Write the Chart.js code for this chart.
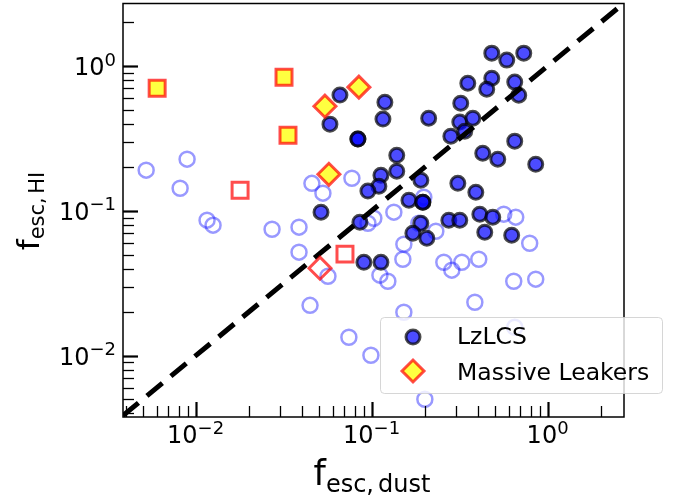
<!DOCTYPE html>
<html>
<head>
<meta charset="utf-8">
<script src="https://cdn.jsdelivr.net/npm/chart.js@4.4.1/dist/chart.umd.min.js"></script>
<style>
  html, body { margin: 0; padding: 0; background: #fff; }
  canvas { display: block; }
</style>
</head>
<body>
<canvas id="chart" width="687" height="498"></canvas>
<script>
// axis limits (log)
const X_MIN = 0.00387, X_MAX = 2.716;
const Y_MIN = 0.00378, Y_MAX = 2.70;

// LzLCS (filled circles)
const lzlcsX = [0.0661, 0.0580, 0.0836, 0.0836, 0.119, 0.116, 0.211, 0.139, 0.139, 0.113,
  0.110, 0.0953, 0.1905, 0.309, 0.391, 0.163, 0.1955, 0.1955, 0.2747, 0.317,
  0.412, 0.488, 0.4395, 0.625, 0.1905, 0.1716, 0.206, 0.113, 0.0904, 0.0516,
  0.0858, 0.4817, 0.586, 0.732, 0.352, 0.4817, 0.451, 0.6505, 0.6855, 0.321,
  0.317, 0.376, 0.282, 0.3384, 0.6505, 0.428, 0.521, 0.856];
const lzlcsY = [0.630, 0.397, 0.313, 0.313, 0.563, 0.430, 0.436, 0.242, 0.188, 0.176,
  0.148, 0.137, 0.163, 0.155, 0.1346, 0.1185, 0.1148, 0.1148, 0.0863, 0.0863,
  0.0949, 0.0905, 0.0713, 0.068, 0.0822, 0.0702, 0.0648, 0.0442, 0.0442, 0.098,
  0.0836, 1.227, 1.098, 1.227, 0.761, 0.824, 0.692, 0.774, 0.629, 0.554,
  0.41, 0.436, 0.328, 0.355, 0.303, 0.250, 0.2275, 0.210];

// open circles
const openX = [0.00524, 0.00895, 0.00817, 0.01162, 0.01257, 0.0272, 0.0387, 0.0387, 0.0458, 0.0529,
  0.0773, 0.0565, 0.0447, 0.0743, 0.0991, 0.0953, 0.1338, 0.103, 0.198, 0.1855,
  0.2317, 0.1525, 0.1505, 0.1115, 0.1237, 0.2572, 0.2856, 0.3255, 0.4064, 0.5633,
  0.659, 0.791, 0.642, 0.856, 0.386, 0.1525, 0.6505, 0.2007];
const openY = [0.191, 0.2275, 0.1434, 0.0863, 0.0797, 0.0747, 0.0772, 0.0519, 0.155, 0.1325,
  0.168, 0.0354, 0.0223, 0.01343, 0.01009, 0.0822, 0.098, 0.089, 0.1243, 0.0822,
  0.0724, 0.0589, 0.0464, 0.036, 0.0327, 0.0442, 0.039, 0.0442, 0.0464, 0.0949,
  0.0905, 0.0598, 0.0327, 0.0338, 0.0234, 0.01999, 0.01574, 0.00501];

// massive leakers
const leakX = [0.0543, 0.0847, 0.0572];
const leakY = [0.528, 0.7145, 0.179];
const leakSqX = [0.00605, 0.0318, 0.0335];
const leakSqY = [0.703, 0.8375, 0.333];
const openSqX = [0.0179, 0.0706];
const openSqY = [0.139, 0.0503];
const openDiaX = [0.0509];
const openDiaY = [0.0402];

const oneToOne = [0.00387, 2.70];
const majorTicks = [0.01, 0.1, 1];
const tickExps = ['\u22122', '\u22121', '0'];
const legendLabels = ['LzLCS', 'Massive Leakers'];

const BLUE = 'rgba(0,0,255,0.7)';
const EDGE = 'rgba(0,0,0,0.7)';
const LIGHT = 'rgba(0,0,255,0.4)';
const RED = 'rgba(255,0,0,0.7)';
const YELLOW = 'rgba(255,255,0,0.75)';
const FONT = "'DejaVu Sans'";

function pts(xs, ys) {
  return xs.map((x, i) => ({ x: x, y: ys[i] }));
}

function drawPow(ctx, exp, x, base, align) {
  ctx.font = '24px ' + FONT;
  const w1 = ctx.measureText('10').width;
  ctx.font = '18px ' + FONT;
  const w2 = ctx.measureText(exp).width;
  const total = w1 + w2;
  let x0 = align === 'center' ? x - total / 2 : x - total;
  ctx.textAlign = 'left';
  ctx.textBaseline = 'alphabetic';
  ctx.font = '24px ' + FONT;
  ctx.fillText('10', x0, base);
  ctx.font = '18px ' + FONT;
  ctx.fillText(exp, x0 + w1, base - 9.5);
}

// f with a subscript, drawn centred at (0, 0) in current frame
function drawSub(ctx, sub1, sub2, big, small, drop) {
  ctx.font = big + 'px ' + FONT;
  const wf = ctx.measureText('f').width;
  ctx.font = small + 'px ' + FONT;
  const w1 = ctx.measureText(sub1).width;
  const gap = small * 0.17;
  const w2 = ctx.measureText(sub2).width;
  const total = wf + w1 + gap + w2;
  let x = -total / 2;
  ctx.textAlign = 'left';
  ctx.textBaseline = 'alphabetic';
  ctx.font = big + 'px ' + FONT;
  ctx.fillText('f', x, 0);
  x += wf;
  ctx.font = small + 'px ' + FONT;
  ctx.fillText(sub1, x, drop);
  x += w1 + gap;
  ctx.fillText(sub2, x, drop);
}

const decor = {
  id: 'decor',
  afterDraw(chart) {
    const ctx = chart.ctx;
    const a = chart.chartArea;
    const xs = chart.scales.x, ys = chart.scales.y;
    ctx.save();
    ctx.strokeStyle = '#000';
    ctx.fillStyle = '#000';

    // ticks, inward on left and bottom
    for (let k = -3; k <= 0; k++) {
      for (let m = 1; m <= 9; m++) {
        const v = m * Math.pow(10, k);
        const major = m === 1;
        const len = major ? 15 : 11;
        ctx.lineWidth = major ? 2.2 : 1.3;
        if (v >= xs.min && v <= xs.max) {
          const px = Math.round(xs.getPixelForValue(v)) + 0.5;
          ctx.beginPath();
          ctx.moveTo(px, a.bottom);
          ctx.lineTo(px, a.bottom - len);
          ctx.stroke();
        }
        if (v >= ys.min && v <= ys.max) {
          const py = Math.round(ys.getPixelForValue(v)) + 0.5;
          ctx.beginPath();
          ctx.moveTo(a.left, py);
          ctx.lineTo(a.left + len, py);
          ctx.stroke();
        }
      }
    }

    // frame
    ctx.lineWidth = 1.5;
    ctx.strokeRect(a.left, a.top, a.right - a.left, a.bottom - a.top);

    // tick labels
    majorTicks.forEach((v, i) => {
      drawPow(ctx, tickExps[i], xs.getPixelForValue(v), a.bottom + 26, 'center');
      drawPow(ctx, tickExps[i], a.left - 7, ys.getPixelForValue(v) + 9, 'right');
    });

    // axis titles
    ctx.save();
    ctx.translate(372, 485);
    drawSub(ctx, 'esc,', 'dust', 35, 24, 6.5);
    ctx.restore();

    ctx.save();
    ctx.translate(39, 211);
    ctx.rotate(-Math.PI / 2);
    drawSub(ctx, 'esc,', 'HI', 31, 21, 4.5);
    ctx.restore();

    // legend
    const lx = 380.5, ly = 317.5, lw = 282, lh = 76, r = 4;
    ctx.beginPath();
    ctx.moveTo(lx + r, ly);
    ctx.lineTo(lx + lw - r, ly);
    ctx.arcTo(lx + lw, ly, lx + lw, ly + r, r);
    ctx.lineTo(lx + lw, ly + lh - r);
    ctx.arcTo(lx + lw, ly + lh, lx + lw - r, ly + lh, r);
    ctx.lineTo(lx + r, ly + lh);
    ctx.arcTo(lx, ly + lh, lx, ly + lh - r, r);
    ctx.lineTo(lx, ly + r);
    ctx.arcTo(lx, ly, lx + r, ly, r);
    ctx.closePath();
    ctx.fillStyle = 'rgba(255,255,255,0.8)';
    ctx.fill();
    ctx.strokeStyle = 'rgba(204,204,204,0.8)';
    ctx.lineWidth = 1;
    ctx.stroke();

    // legend markers
    ctx.beginPath();
    ctx.arc(413, 337, 7, 0, Math.PI * 2);
    ctx.fillStyle = BLUE;
    ctx.fill();
    ctx.strokeStyle = EDGE;
    ctx.lineWidth = 3;
    ctx.stroke();

    ctx.beginPath();
    ctx.moveTo(413 - 11, 371);
    ctx.lineTo(413, 371 - 11);
    ctx.lineTo(413 + 11, 371);
    ctx.lineTo(413, 371 + 11);
    ctx.closePath();
    ctx.fillStyle = YELLOW;
    ctx.fill();
    ctx.strokeStyle = RED;
    ctx.lineWidth = 3;
    ctx.stroke();

    ctx.fillStyle = '#000';
    ctx.font = '23.5px ' + FONT;
    ctx.textAlign = 'left';
    ctx.textBaseline = 'alphabetic';
    ctx.fillText(legendLabels[0], 457, 343.5);
    ctx.fillText(legendLabels[1], 457, 380);

    ctx.restore();
  }
};

new Chart(document.getElementById('chart'), {
  type: 'scatter',
  data: {
    datasets: [
      {
        label: legendLabels[1],
        data: pts(leakX, leakY),
        pointStyle: 'rectRot',
        pointRadius: 11,
        borderWidth: 3,
        backgroundColor: YELLOW,
        borderColor: RED,
        order: 0
      },
      {
        label: 'open diamonds',
        data: pts(openDiaX, openDiaY),
        pointStyle: 'rectRot',
        pointRadius: 11,
        borderWidth: 3,
        backgroundColor: 'rgba(0,0,0,0)',
        borderColor: RED,
        order: 0
      },
      {
        label: 'squares',
        data: pts(leakSqX, leakSqY),
        pointStyle: 'rect',
        pointRadius: 11.3,
        borderWidth: 3,
        backgroundColor: YELLOW,
        borderColor: RED,
        order: 1
      },
      {
        label: 'open squares',
        data: pts(openSqX, openSqY),
        pointStyle: 'rect',
        pointRadius: 11.3,
        borderWidth: 3,
        backgroundColor: 'rgba(0,0,0,0)',
        borderColor: RED,
        order: 1
      },
      {
        type: 'line',
        label: '1:1',
        data: pts(oneToOne, oneToOne),
        borderColor: '#000',
        borderWidth: 5,
        borderDash: [20, 11],
        pointRadius: 0,
        fill: false,
        clip: 0,
        order: 2
      },
      {
        label: legendLabels[0],
        data: pts(lzlcsX, lzlcsY),
        pointStyle: 'circle',
        pointRadius: 7,
        borderWidth: 3,
        backgroundColor: BLUE,
        borderColor: EDGE,
        order: 3
      },
      {
        label: 'open circles',
        data: pts(openX, openY),
        pointStyle: 'circle',
        pointRadius: 7.5,
        borderWidth: 2.5,
        backgroundColor: 'rgba(0,0,0,0)',
        borderColor: LIGHT,
        order: 4
      }
    ]
  },
  options: {
    responsive: false,
    animation: false,
    events: [],
    layout: { autoPadding: false, padding: { left: 123, top: 3.5, right: 63, bottom: 81 } },
    scales: {
      x: { type: 'logarithmic', min: X_MIN, max: X_MAX, display: false },
      y: { type: 'logarithmic', min: Y_MIN, max: Y_MAX, display: false }
    },
    plugins: {
      legend: { display: false },
      tooltip: { enabled: false }
    }
  },
  plugins: [decor]
});
</script>
</body>
</html>
